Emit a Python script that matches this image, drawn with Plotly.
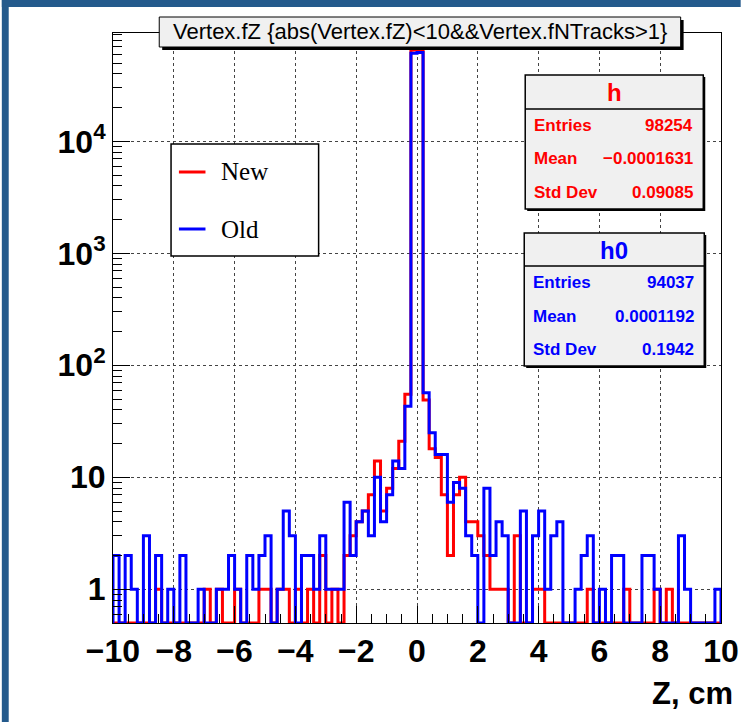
import numpy as np
import plotly.graph_objects as go

# ---- data: Vertex.fZ, 100 bins on [-10, 10] ----
x_lo, x_hi, n_bins = -10.0, 10.0, 100
new_counts = [
    0, 0, 0, 0, 0, 0, 0, 1, 0, 0,
    0, 0, 0, 0, 0, 1, 0, 1, 0, 0,
    1, 0, 0, 0, 1, 1, 0, 1, 1, 0,
    1, 0, 1, 0, 2, 0, 1, 0, 2, 3,
    4, 5, 7, 14, 5, 8, 12, 21, 55, 65000,
    66000, 49, 18, 15, 7, 2, 7, 10, 4, 4,
    3, 2, 1, 1, 1, 0, 3, 0, 0, 1,
    1, 0, 0, 0, 0, 0, 0, 0, 1, 0,
    0, 0, 0, 0, 1, 0, 0, 0, 0, 1,
    0, 1, 0, 0, 0, 0, 0, 0, 0, 0,
]
old_counts = [
    2, 0, 2, 1, 0, 3, 0, 2, 0, 1,
    0, 2, 0, 0, 1, 0, 0, 1, 1, 2,
    1, 0, 2, 1, 2, 3, 0, 1, 5, 3,
    0, 2, 2, 1, 3, 1, 1, 1, 6, 2,
    4, 5, 3, 10, 4, 7, 14, 12, 43, 61000,
    62000, 57, 25, 16, 16, 6, 9, 8, 3, 2,
    0, 8, 2, 4, 3, 0, 0, 5, 0, 3,
    5, 1, 3, 4, 0, 0, 1, 2, 3, 0,
    1, 0, 2, 2, 0, 0, 0, 2, 2, 1,
    0, 0, 0, 3, 1, 0, 0, 0, 0, 1,
]
x_ticks = [-10, -8, -6, -4, -2, 0, 2, 4, 6, 8, 10]
x_tick_text = ["\u221210", "\u22128", "\u22126", "\u22124", "\u22122",
               "0", "2", "4", "6", "8", "10"]
y_ticks = [1, 10, 100, 1000, 10000]
y_tick_text = ["1", "10", "10<sup>2</sup>", "10<sup>3</sup>", "10<sup>4</sup>"]

stats_new = [("Entries", "98254"), ("Mean", "\u22120.0001631"), ("Std Dev", "0.09085")]
stats_old = [("Entries", "94037"), ("Mean", "0.0001192"), ("Std Dev", "0.1942")]

Y_MIN, Y_MAX = 0.5, 10 ** 4.967
edges = np.linspace(x_lo, x_hi, n_bins + 1)

RED, BLUE = "#ff0000", "#0000ff"
SANS = "Liberation Sans, Arial, Helvetica, sans-serif"
SERIF = "Liberation Serif, Times New Roman, serif"

# frame in pixels
W_PX, H_PX = 751, 722
L, R, T, B = 113, 731, 33, 623


def px(x):
    return (x - L) / (R - L)


def py(y):
    return (B - y) / (B - T)


def outline(counts):
    """Histogram outline: ROOT-style, empty bins sit on the frame floor."""
    xs, ys = [edges[0]], [Y_MIN]
    for i, c in enumerate(counts):
        v = c if c > 0 else Y_MIN
        xs += [edges[i], edges[i + 1]]
        ys += [v, v]
    xs.append(edges[-1])
    ys.append(Y_MIN)
    return xs, ys


fig = go.Figure()
for counts, color, name in [(new_counts, RED, "New"), (old_counts, BLUE, "Old")]:
    xs, ys = outline(counts)
    fig.add_trace(go.Scatter(x=xs, y=ys, mode="lines", name=name,
                             line=dict(color=color, width=3), showlegend=False,
                             hoverinfo="skip"))

shapes = []
annotations = []


def rect(x0, y0, x1, y1, fill, line_color="black", lw=1, layer="above"):
    shapes.append(dict(type="rect", xref="paper", yref="paper",
                       x0=px(x0), x1=px(x1), y0=py(y1), y1=py(y0),
                       fillcolor=fill, line=dict(color=line_color, width=lw),
                       layer=layer))


def hline(x0, x1, y, color, lw=1):
    shapes.append(dict(type="line", xref="paper", yref="paper",
                       x0=px(x0), x1=px(x1), y0=py(y), y1=py(y),
                       line=dict(color=color, width=lw), layer="above"))


def text(x, y, s, size, color="black", family=SANS, xanchor="center",
         weight="bold"):
    annotations.append(dict(xref="paper", yref="paper", x=px(x), y=py(y),
                            text=s, showarrow=False, xanchor=xanchor,
                            yanchor="middle", borderpad=0,
                            font=dict(family=family, size=size, color=color,
                                      weight=weight)))


# canvas border strips
rect(0, 0, 7, H_PX, "#245a8c", line_color="#245a8c", lw=0)
rect(0, 0, W_PX, 7, "#245a8c", line_color="#245a8c", lw=0)

# title pave with shadow
rect(163, 20, 693, 50, "black", lw=0)
rect(160, 17, 690, 47, "#f0f0f0", lw=1)
text(425, 32, "Vertex.fZ {abs(Vertex.fZ)&lt;10&amp;&amp;Vertex.fNTracks&gt;1}",
     22, weight="normal")

# legend
rect(172, 144, 322, 256, "white", lw=1.5)
hline(180, 207, 172, RED, 3)
hline(180, 207, 229, BLUE, 3)
text(222, 172, "New", 25, family=SERIF, xanchor="left", weight="normal")
text(222, 229, "Old", 25, family=SERIF, xanchor="left", weight="normal")


def stat_box(x0, y0, x1, y1, sep, title, rows, color):
    rect(x0 + 2, y0 + 2, x1 + 2, y1 + 2, "black", lw=0)
    rect(x0, y0, x1, y1, "#f0f0f0", lw=1.5)
    hline(x0, x1, sep, "black", 1.5)
    text((x0 + x1) / 2, (y0 + sep) / 2 + 1, title, 24, color)
    step = (y1 - sep) / 3
    for i, (k, v) in enumerate(rows):
        yc = sep + step * (i + 0.5)
        text(x0 + 8, yc, k, 17, color, xanchor="left")
        text(x1 - 9, yc, v, 17, color, xanchor="right")


stat_box(532, 75, 713, 209, 109, "h", stats_new, RED)
stat_box(531, 233, 714, 366, 266, "h0", stats_old, BLUE)

# x-axis title, right-aligned to the frame edge
text(744, 693, "Z, cm", 31, xanchor="right")

minor_y = [m * 10 ** d for d in range(-1, 5) for m in range(2, 10) if 0.5 < m * 10 ** d < Y_MAX]

tick_font = dict(family=SANS, size=32, color="black", weight="bold")
fig.update_layout(
    width=W_PX, height=H_PX, autosize=False,
    margin=dict(l=L, r=W_PX - R, t=T, b=H_PX - B, pad=0),
    paper_bgcolor="white", plot_bgcolor="white",
    shapes=shapes, annotations=annotations, showlegend=False,
)
fig.update_xaxes(
    range=[x_lo, x_hi], tickvals=x_ticks, ticktext=x_tick_text,
    ticks="inside", ticklen=17, tickwidth=1, tickcolor="black",
    minor=dict(dtick=0.5, tick0=0, ticks="inside", ticklen=9,
               tickcolor="black", showgrid=False),
    showgrid=True, gridcolor="#444444", griddash="dot", gridwidth=1,
    showline=True, linecolor="black", linewidth=1, mirror=True,
    zeroline=False, tickfont=tick_font,
)
fig.update_yaxes(
    type="log", range=[np.log10(Y_MIN), np.log10(Y_MAX)],
    tickvals=y_ticks, ticktext=y_tick_text,
    ticks="inside", ticklen=17, tickwidth=1, tickcolor="black",
    minor=dict(tickvals=minor_y, ticks="inside", ticklen=9,
               tickcolor="black", showgrid=False),
    showgrid=True, gridcolor="#444444", griddash="dot", gridwidth=1,
    showline=True, linecolor="black", linewidth=1, mirror=True,
    zeroline=False, tickfont=tick_font,
)

fig.write_html("out.html")
